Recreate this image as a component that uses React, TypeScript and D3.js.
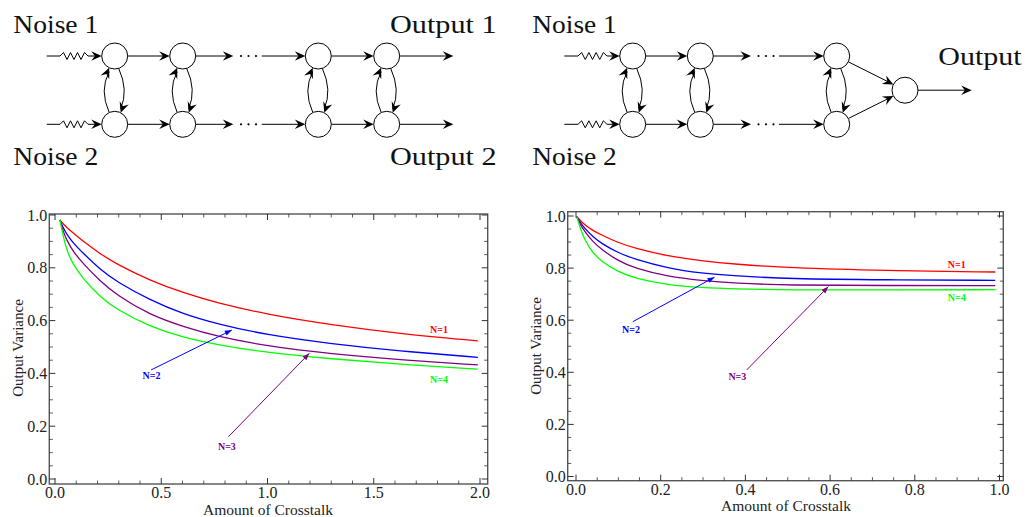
import React from 'react';
import * as d3 from 'd3';

// ---------- data: left chart (two independent outputs) ----------
const leftX = [0.0235, 0.039, 0.055, 0.086, 0.133, 0.212, 0.29, 0.447, 0.604, 0.761, 1.0, 1.302, 1.616, 1.99];
const leftN1 = [0.981, 0.966, 0.953, 0.931, 0.9, 0.853, 0.814, 0.752, 0.705, 0.667, 0.623, 0.584, 0.551, 0.523];
const leftN2 = [0.981, 0.95, 0.928, 0.893, 0.855, 0.794, 0.747, 0.678, 0.625, 0.588, 0.545, 0.512, 0.485, 0.461];
const leftN3 = [0.981, 0.937, 0.905, 0.861, 0.815, 0.75, 0.697, 0.621, 0.577, 0.54, 0.503, 0.474, 0.452, 0.432];
const leftN4 = [0.981, 0.918, 0.867, 0.81, 0.758, 0.69, 0.642, 0.577, 0.536, 0.509, 0.478, 0.455, 0.435, 0.416];

// ---------- data: right chart (combined output) ----------
const rightX = [0.002, 0.0087, 0.0205, 0.04, 0.06, 0.099, 0.139, 0.217, 0.296, 0.375, 0.5, 0.73, 0.99];
const rightN1 = [0.997, 0.985, 0.966, 0.944, 0.927, 0.898, 0.876, 0.846, 0.828, 0.815, 0.801, 0.79, 0.785];
const rightN2 = [0.997, 0.978, 0.953, 0.92, 0.895, 0.859, 0.834, 0.799, 0.78, 0.77, 0.759, 0.755, 0.753];
const rightN3 = [0.997, 0.972, 0.94, 0.901, 0.872, 0.828, 0.799, 0.767, 0.752, 0.742, 0.734, 0.733, 0.733];
const rightN4 = [0.997, 0.959, 0.908, 0.857, 0.826, 0.786, 0.761, 0.735, 0.725, 0.72, 0.716, 0.716, 0.717];

const seriesNames = ['N=1', 'N=2', 'N=3', 'N=4'];
const seriesColors = ['#ff0000', '#0000ff', '#800080', '#00ff00'];

const xTitle = 'Amount of Crosstalk';
const yTitle = 'Output Variance';

// annotation label anchors and arrows (data coordinates)
const leftLabelPos = [[1.807, 0.553], [0.454, 0.379], [0.809, 0.11], [1.807, 0.364]];
const leftArrows = [null, [[0.452, 0.413], [0.832, 0.564]], [[0.816, 0.16], [1.197, 0.476]], null];
const rightLabelPos = [[0.899, 0.8], [0.13, 0.551], [0.381, 0.37], [0.899, 0.674]];
const rightArrows = [null, [[0.134, 0.594], [0.327, 0.765]], [[0.403, 0.409], [0.596, 0.729]], null];

const SERIF = '"Liberation Serif", "Times New Roman", Times, serif';

type ChartProps = {
  xs: number[];
  ys: number[][];
  xDomain: [number, number];
  xRange: [number, number];
  yRange: [number, number];
  frame: { l: number; r: number; t: number; b: number };
  xMajorStep: number;
  xMinorStep: number;
  labelPos: number[][];
  arrows: (number[][] | null)[];
  xTitleX: number;
  xTitleY: number;
  yTitleX: number;
  yTitleY: number;
};

function Chart(p: ChartProps) {
  const x = d3.scaleLinear().domain(p.xDomain).range(p.xRange);
  const y = d3.scaleLinear().domain([0, 1]).range(p.yRange);
  const f = p.frame;
  const eps = 1e-6;
  const xMajor = d3.range(p.xDomain[0], p.xDomain[1] + eps, p.xMajorStep);
  const xMinor = d3.range(p.xDomain[0], p.xDomain[1] + eps, p.xMinorStep).filter(
    (v) => Math.abs(v / p.xMajorStep - Math.round(v / p.xMajorStep)) > 1e-4
  );
  const yMajor = d3.range(0, 1 + eps, 0.2);
  const yMinor = d3.range(0, 1 + eps, 0.05).filter((v) => Math.abs(v / 0.2 - Math.round(v / 0.2)) > 1e-4);
  const fmt = d3.format('.1f');
  const line = d3
    .line<[number, number]>()
    .x((d) => x(d[0]))
    .y((d) => y(d[1]))
    .curve(d3.curveBasis);
  const MJ = 6, MN = 3.5;
  const tickCol = '#333';
  return (
    <g>
      {/* series */}
      {p.ys.map((vals, i) => {
        const pts = p.xs.map((xv, j) => [xv, vals[j]] as [number, number]);
        const ext = [pts[0], ...pts, pts[pts.length - 1]];
        return (
          <path key={i} d={line(ext) || ''} fill="none" stroke={seriesColors[i]} strokeWidth={1.3} />
        );
      })}
      {/* frame */}
      <rect x={f.l} y={f.t} width={f.r - f.l} height={f.b - f.t} fill="none" stroke="#555" strokeWidth={1.4} />
      {/* x ticks */}
      {xMajor.map((v, i) => (
        <g key={'xm' + i}>
          <line x1={x(v)} x2={x(v)} y1={f.b} y2={f.b - MJ} stroke={tickCol} strokeWidth={1} />
          <line x1={x(v)} x2={x(v)} y1={f.t} y2={f.t + MJ} stroke={tickCol} strokeWidth={1} />
          <text x={x(v)} y={f.b + 14} textAnchor="middle" fontFamily={SERIF} fontSize={16} fill="#222">
            {fmt(v)}
          </text>
        </g>
      ))}
      {xMinor.map((v, i) => (
        <g key={'xn' + i}>
          <line x1={x(v)} x2={x(v)} y1={f.b} y2={f.b - MN} stroke={tickCol} strokeWidth={0.8} />
          <line x1={x(v)} x2={x(v)} y1={f.t} y2={f.t + MN} stroke={tickCol} strokeWidth={0.8} />
        </g>
      ))}
      {/* y ticks */}
      {yMajor.map((v, i) => (
        <g key={'ym' + i}>
          <line x1={f.l} x2={f.l + MJ} y1={y(v)} y2={y(v)} stroke={tickCol} strokeWidth={1} />
          <line x1={f.r} x2={f.r - MJ} y1={y(v)} y2={y(v)} stroke={tickCol} strokeWidth={1} />
          <text x={f.l - 2} y={y(v) + 5.5} textAnchor="end" fontFamily={SERIF} fontSize={16} fill="#222">
            {fmt(v)}
          </text>
        </g>
      ))}
      {yMinor.map((v, i) => (
        <g key={'yn' + i}>
          <line x1={f.l} x2={f.l + MN} y1={y(v)} y2={y(v)} stroke={tickCol} strokeWidth={0.8} />
          <line x1={f.r} x2={f.r - MN} y1={y(v)} y2={y(v)} stroke={tickCol} strokeWidth={0.8} />
        </g>
      ))}
      {/* annotations */}
      {p.arrows.map((a, i) => {
        if (!a) return null;
        const x1 = x(a[0][0]), y1 = y(a[0][1]), x2 = x(a[1][0]), y2 = y(a[1][1]);
        const ang = (Math.atan2(y2 - y1, x2 - x1) * 180) / Math.PI;
        return (
          <g key={'ar' + i}>
            <line x1={x1} y1={y1} x2={x2} y2={y2} stroke={seriesColors[i]} strokeWidth={1} />
            <path d="M0,0 L-7,-2.6 L-7,2.6 Z" fill={seriesColors[i]} transform={`translate(${x2},${y2}) rotate(${ang})`} />
          </g>
        );
      })}
      {p.labelPos.map((pos, i) => (
        <text
          key={'lb' + i}
          x={x(pos[0])}
          y={y(pos[1])}
          textAnchor="middle"
          fontFamily={SERIF}
          fontWeight="bold"
          fontSize={10}
          fill={seriesColors[i]}
        >
          {seriesNames[i]}
        </text>
      ))}
      {/* titles */}
      <text x={p.xTitleX} y={p.xTitleY} textAnchor="middle" fontFamily={SERIF} fontSize={15.5} fill="#222">
        {xTitle}
      </text>
      <text
        transform={`translate(${p.yTitleX},${p.yTitleY}) rotate(-90)`}
        textAnchor="middle"
        fontFamily={SERIF}
        fontSize={15}
        fill="#222"
      >
        {yTitle}
      </text>
    </g>
  );
}

// ---------- diagram helpers ----------
const R = 13;
function Head({ x, y, ang }: { x: number; y: number; ang: number }) {
  return <path d="M0,0 L-10.5,-4.8 L-6.8,0 L-10.5,4.8 Z" fill="#000" transform={`translate(${x},${y}) rotate(${ang})`} />;
}
function HArrow({ x1, x2, y }: { x1: number; x2: number; y: number }) {
  return (
    <g>
      <line x1={x1} x2={x2 - 6} y1={y} y2={y} stroke="#000" strokeWidth={1} />
      <Head x={x2} y={y} ang={0} />
    </g>
  );
}
function SArrow({ x1, y1, x2, y2 }: { x1: number; y1: number; x2: number; y2: number }) {
  const ang = Math.atan2(y2 - y1, x2 - x1);
  return (
    <g>
      <line x1={x1} y1={y1} x2={x2 - 6 * Math.cos(ang)} y2={y2 - 6 * Math.sin(ang)} stroke="#000" strokeWidth={1} />
      <Head x={x2} y={y2} ang={(ang * 180) / Math.PI} />
    </g>
  );
}
function Zig({ x0, x1, x2, tip, y }: { x0: number; x1: number; x2: number; tip: number; y: number }) {
  const n = 8;
  const pts: string[] = [`M${x0},${y}`, `L${x1},${y}`];
  for (let k = 1; k <= n; k++) {
    const xx = x1 + ((x2 - x1) * k) / n;
    const yy = k === n ? y : y + (k % 2 === 1 ? -3.5 : 3.5);
    pts.push(`L${xx},${yy}`);
  }
  pts.push(`L${tip - 6},${y}`);
  return (
    <g>
      <path d={pts.join(' ')} fill="none" stroke="#000" strokeWidth={1} />
      <Head x={tip} y={y} ang={0} />
    </g>
  );
}
function Dots({ x, y }: { x: number; y: number }) {
  return (
    <g>
      {[0, 7.5, 15].map((d) => (
        <circle key={d} cx={x + d} cy={y} r={1.1} fill="#000" />
      ))}
    </g>
  );
}
function Coupling({ cx, yt, yb }: { cx: number; yt: number; yb: number }) {
  const lx = cx - 5.5;
  const ly1 = yb - Math.sqrt(R * R - 5.5 * 5.5);
  const ly2 = yt + Math.sqrt(R * R - 5.5 * 5.5);
  const lcx = cx - 15.5, lcy = (yt + yb) / 2;
  const rx1 = cx + 4, rx2 = cx + 6;
  const ry1 = yt + Math.sqrt(R * R - 16);
  const ry2 = yb - Math.sqrt(R * R - 36);
  const rcx = cx + 14, rcy = (yt + yb) / 2;
  const angL = (Math.atan2(ly2 - lcy, lx - lcx) * 180) / Math.PI;
  const angR = (Math.atan2(ry2 - rcy, rx2 - rcx) * 180) / Math.PI;
  return (
    <g>
      <path d={`M${lx},${ly1} Q${lcx},${lcy} ${lx},${ly2 + 4}`} fill="none" stroke="#000" strokeWidth={1} />
      <Head x={lx} y={ly2} ang={angL} />
      <path d={`M${rx1},${ry1} Q${rcx},${rcy} ${rx2},${ry2 - 4}`} fill="none" stroke="#000" strokeWidth={1} />
      <Head x={rx2} y={ry2} ang={angR} />
    </g>
  );
}
function Node({ cx, cy }: { cx: number; cy: number }) {
  return <circle cx={cx} cy={cy} r={R} fill="#fff" stroke="#000" strokeWidth={1} />;
}
function Label({ x, y, w, children }: { x: number; y: number; w: number; children: string }) {
  return (
    <text x={x} y={y} fontFamily={SERIF} fontSize={26} textLength={w} lengthAdjust="spacingAndGlyphs" fill="#111">
      {children}
    </text>
  );
}

function LeftDiagram() {
  const rows = [56, 124.3];
  const nx = [114.7, 182.7, 318.3, 386.7];
  return (
    <g>
      <Label x={13.3} y={33} w={85}>Noise 1</Label>
      <Label x={390} y={33} w={106.7}>Output 1</Label>
      <Label x={13.3} y={165} w={85}>Noise 2</Label>
      <Label x={390} y={165} w={106.7}>Output 2</Label>
      {rows.map((y) => (
        <g key={y}>
          <Zig x0={46.7} x1={60} x2={88} tip={nx[0] - R} y={y} />
          <HArrow x1={nx[0] + R} x2={nx[1] - R} y={y} />
          <HArrow x1={nx[1] + R} x2={233.3} y={y} />
          <Dots x={241} y={y} />
          <HArrow x1={261.7} x2={nx[2] - R} y={y} />
          <HArrow x1={nx[2] + R} x2={nx[3] - R} y={y} />
          <HArrow x1={nx[3] + R} x2={453.3} y={y} />
        </g>
      ))}
      {nx.map((cx) => (
        <g key={cx}>
          <Coupling cx={cx} yt={rows[0]} yb={rows[1]} />
          <Node cx={cx} cy={rows[0]} />
          <Node cx={cx} cy={rows[1]} />
        </g>
      ))}
    </g>
  );
}

function RightDiagram() {
  const rows = [56, 124.3];
  const nx = [632.7, 700.3, 836.7];
  const out = { x: 905, y: 90.2 };
  return (
    <g>
      <Label x={532.3} y={33} w={84.5}>Noise 1</Label>
      <Label x={532.3} y={164.5} w={84.5}>Noise 2</Label>
      <Label x={938.3} y={65} w={83.4}>Output</Label>
      {rows.map((y) => {
        const dx = out.x - nx[2], dy = out.y - y;
        const d = Math.sqrt(dx * dx + dy * dy);
        return (
          <g key={y}>
            <Zig x0={564.3} x1={578} x2={607} tip={nx[0] - R} y={y} />
            <HArrow x1={nx[0] + R} x2={nx[1] - R} y={y} />
            <HArrow x1={nx[1] + R} x2={751} y={y} />
            <Dots x={758.5} y={y} />
            <HArrow x1={779} x2={nx[2] - R} y={y} />
            <SArrow
              x1={nx[2] + (dx / d) * R}
              y1={y + (dy / d) * R}
              x2={out.x - (dx / d) * R}
              y2={out.y - (dy / d) * R}
            />
          </g>
        );
      })}
      {nx.map((cx) => (
        <g key={cx}>
          <Coupling cx={cx} yt={rows[0]} yb={rows[1]} />
          <Node cx={cx} cy={rows[0]} />
          <Node cx={cx} cy={rows[1]} />
        </g>
      ))}
      <Node cx={out.x} cy={out.y} />
      <HArrow x1={out.x + R} x2={971.7} y={out.y} />
    </g>
  );
}

export default function App() {
  return (
    <div style={{ position: 'absolute', left: 0, top: 0 }}>
      <svg width={1029} height={517} style={{ display: 'block', background: '#fff' }}>
        <rect width={1029} height={517} fill="#fff" />
        <LeftDiagram />
        <RightDiagram />
        <Chart
          xs={leftX}
          ys={[leftN1, leftN2, leftN3, leftN4]}
          xDomain={[0, 2]}
          xRange={[55, 480]}
          yRange={[479, 215]}
          frame={{ l: 49.3, r: 487.7, t: 214, b: 484 }}
          xMajorStep={0.5}
          xMinorStep={0.1}
          labelPos={leftLabelPos}
          arrows={leftArrows}
          xTitleX={268}
          xTitleY={515}
          yTitleX={23}
          yTitleY={348}
        />
        <Chart
          xs={rightX}
          ys={[rightN1, rightN2, rightN3, rightN4]}
          xDomain={[0, 1]}
          xRange={[576, 999.5]}
          yRange={[476.5, 216]}
          frame={{ l: 567.7, r: 1003.3, t: 211.7, b: 480.7 }}
          xMajorStep={0.2}
          xMinorStep={0.05}
          labelPos={rightLabelPos}
          arrows={rightArrows}
          xTitleX={786}
          xTitleY={511}
          yTitleX={541}
          yTitleY={346}
        />
      </svg>
    </div>
  );
}
